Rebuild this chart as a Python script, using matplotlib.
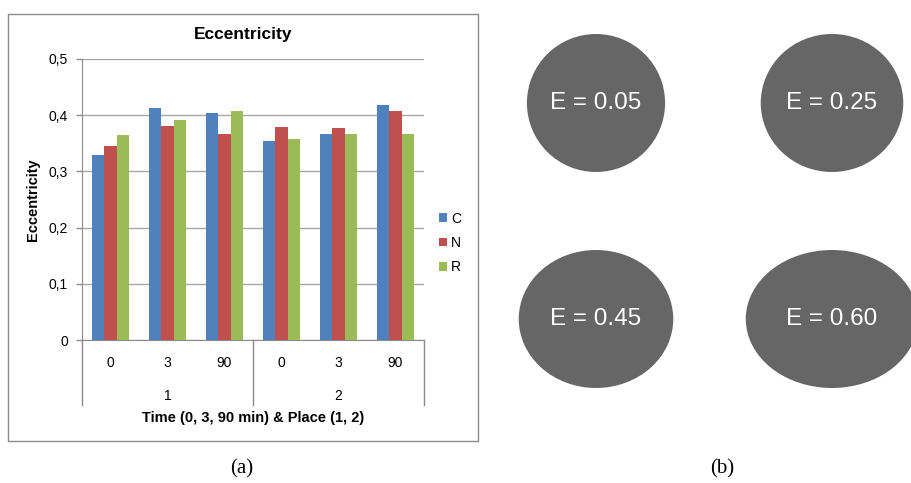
import matplotlib.pyplot as plt
import numpy as np
from matplotlib.patches import Rectangle, Ellipse, Patch

plt.rcParams['font.family'] = ['Liberation Sans', 'DejaVu Sans']

### Data
times = ['0', '3', '90', '0', '3', '90']
places = ['1', '2']
series = ['C', 'N', 'R']
C_vals = [0.329, 0.412, 0.404, 0.354, 0.367, 0.419]
N_vals = [0.345, 0.380, 0.367, 0.379, 0.377, 0.407]
R_vals = [0.365, 0.391, 0.407, 0.357, 0.367, 0.367]
colors = ['#4F81BD', '#C0504D', '#9BBB59']

ecc_values = [0.05, 0.25, 0.45, 0.60]
ecc_labels = ['E = 0.05', 'E = 0.25', 'E = 0.45', 'E = 0.60']

W, H = 912, 483
fig = plt.figure(figsize=(W / 100, H / 100), dpi=100)

# full-figure axes in pixel units for the frame, panel labels and ellipses
bg = fig.add_axes([0, 0, 1, 1])
bg.set_xlim(0, W)
bg.set_ylim(H, 0)
bg.axis('off')

bg.add_patch(Rectangle((8, 14), 470, 427, fill=False, edgecolor='#8c8c8c', linewidth=1))
bg.text(243, 34, 'Eccentricity', ha='center', va='center', fontsize=12.5, fontweight='bold')
bg.text(242, 469, '(a)', ha='center', va='center', fontsize=15, family='Liberation Serif')
bg.text(722, 469, '(b)', ha='center', va='center', fontsize=15, family='Liberation Serif')

# ellipses: height fixed, width from eccentricity b/a = sqrt(1 - E^2)
centers = [(596, 103), (832, 103), (596, 319), (832, 319)]
ell_h = 138
for (cx, cy), e, lab in zip(centers, ecc_values, ecc_labels):
    ell_w = ell_h / np.sqrt(1 - e ** 2)
    bg.add_patch(Ellipse((cx, cy), ell_w, ell_h, facecolor='#666666', edgecolor='none'))
    bg.text(cx, cy, lab, ha='center', va='center', color='white', fontsize=17.5)

### Bar chart
ax = fig.add_axes([82 / W, 1 - 340 / H, 342 / W, 281 / H])
x = np.arange(len(times))
bw = 0.222
for i, (vals, col, name) in enumerate(zip([C_vals, N_vals, R_vals], colors, series)):
    ax.bar(x + (i - 1) * bw, vals, width=bw, color=col, label=name, zorder=3)

ax.set_xlim(-0.5, len(times) - 0.5)
ax.set_ylim(0, 0.5)
ax.set_yticks(np.arange(0, 0.51, 0.1))
ax.set_yticklabels(['0', '0,1', '0,2', '0,3', '0,4', '0,5'])
ax.tick_params(axis='y', length=4, width=1, color='#8c8c8c', pad=6, labelsize=10)
ax.set_xticks([])
ax.grid(axis='y', color='#a6a6a6', linewidth=1, zorder=0)
for s in ['top', 'right']:
    ax.spines[s].set_visible(False)
ax.spines['left'].set_color('#8c8c8c')
ax.spines['bottom'].set_color('#8c8c8c')

ax.set_ylabel('Eccentricity', fontsize=10.5, fontweight='bold')
ax.yaxis.set_label_coords(-0.124, 0.5)

# two-level category axis
tr = ax.get_xaxis_transform()
for xi, t in zip(x, times):
    ax.text(xi, -0.081, t, transform=tr, ha='center', va='center', fontsize=10)
for j, p in enumerate(places):
    ax.text(j * 3 + 1, -0.199, p, transform=tr, ha='center', va='center', fontsize=10)
for xd in [-0.5, 2.5, 5.5]:
    ax.plot([xd, xd], [0, -0.231], transform=tr, color='#8c8c8c', linewidth=1, clip_on=False)
ax.text(2.5, -0.278, 'Time (0, 3, 90 min) & Place (1, 2)', transform=tr,
        ha='center', va='center', fontsize=10.5, fontweight='bold')

handles = [Patch(facecolor=c, label=n) for c, n in zip(colors, series)]
ax.legend(handles=handles, loc='center left', bbox_to_anchor=(439 / W, 1 - 243 / H),
          bbox_transform=fig.transFigure, frameon=False, fontsize=10,
          handlelength=0.55, handleheight=0.55, handletextpad=0.3,
          labelspacing=0.75, borderpad=0, borderaxespad=0)

fig.savefig('out.png', dpi=100)
